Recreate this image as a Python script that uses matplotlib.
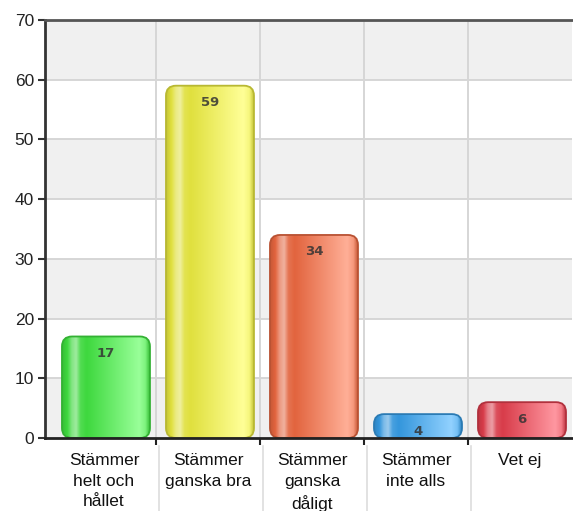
import numpy as np
import matplotlib
matplotlib.use("Agg")
import matplotlib.pyplot as plt
from matplotlib.patches import FancyBboxPatch
from matplotlib.colors import LinearSegmentedColormap, to_rgb
from matplotlib.lines import Line2D
from matplotlib.transforms import blended_transform_factory

categories = ["Stämmer\nhelt och\nhållet", "Stämmer\nganska bra", "Stämmer\nganska\ndåligt",
              "Stämmer\ninte alls", "Vet ej"]
values = [17, 59, 34, 4, 6]
bar_colors = ["#3ed83e", "#e0e03e", "#e2643e", "#3496dc", "#d83c4a"]
y_ticks = [0, 10, 20, 30, 40, 50, 60, 70]

W, H = 573, 511
fig = plt.figure(figsize=(W / 100, H / 100), dpi=100)
L, R, T, B = 45, 572, 20, 438
ax = fig.add_axes([L / W, (H - B) / H, (R - L) / W, (B - T) / H])

n = len(categories)
xmin, xmax = -0.567, n - 0.5
ymin, ymax = 0, 70
ax.set_xlim(xmin, xmax)
ax.set_ylim(ymin, ymax)

# alternating background bands
for i in range(0, 7):
    if i % 2 == 0:
        ax.axhspan(i * 10, (i + 1) * 10, color="#f0f0f0", zorder=0, lw=0)
ax.set_facecolor("white")

# grid
for yv in y_ticks[1:-1]:
    ax.axhline(yv, color="#d6d6d6", lw=1.4, zorder=1)
for xb in np.arange(0.5, n - 0.5, 1.0):
    ax.axvline(xb, color="#d6d6d6", lw=1.4, zorder=1)

def mix(c, t, target):
    c = np.array(to_rgb(c)); target = np.array(target)
    return tuple(c + (target - c) * t)

def brighten(c, t):
    c = np.array(to_rgb(c))
    mx = c.max()
    b = np.clip(c / mx, 0, 1)
    b = b * 0.75 + 0.25 * np.array([1, 1, 1]) * b.max()
    b = np.clip(b + 0.25 * (1 - b), 0, 1)
    return tuple(c + (b - c) * t)

px_x = (xmax - xmin) / (R - L)
px_y = (ymax - ymin) / (B - T)
rad_px = 10
r_x = rad_px * px_x
asp = px_y / px_x
bw = 88 * px_x
off = 2 * px_x

for i, (v, c) in enumerate(zip(values, bar_colors)):
    x0 = i + off - bw / 2
    patch = FancyBboxPatch((x0, 0), bw, v,
                           boxstyle=f"round,pad=0,rounding_size={r_x}",
                           mutation_aspect=asp, facecolor="none",
                           edgecolor=mix(c, 0.18, (0, 0, 0)), lw=1.3, zorder=4)
    ax.add_patch(patch)
    stops = [
        (0.0, mix(c, 0.12, (0, 0, 0))),
        (0.06, c),
        (0.11, mix(c, 0.35, (1, 1, 1))),
        (0.16, mix(c, 0.5, (1, 1, 1))),
        (0.21, mix(c, 0.1, (1, 1, 1))),
        (0.28, c),
        (0.88, brighten(c, 1.0)),
        (0.95, brighten(c, 0.7)),
        (1.0, mix(c, 0.12, (0, 0, 0))),
    ]
    cmap = LinearSegmentedColormap.from_list(f"g{i}", stops)
    grad = np.linspace(0, 1, 256).reshape(1, -1)
    im = ax.imshow(grad, cmap=cmap, extent=(x0, x0 + bw, 0, v), aspect="auto",
                   zorder=3, interpolation="bilinear")
    im.set_clip_path(patch)
    ax.text(i + off, v - 17 * px_y, str(v), ha="center", va="center",
            fontsize=9.5, fontweight="bold", color="#333333", alpha=0.85,
            family="DejaVu Sans", zorder=5)

ax.set_xlim(xmin, xmax)
ax.set_ylim(ymin, ymax)

# spines
ax.spines["right"].set_visible(False)
ax.spines["top"].set_color("#555555")
ax.spines["top"].set_linewidth(2)
ax.spines["left"].set_color("#333333")
ax.spines["left"].set_linewidth(2)
ax.spines["bottom"].set_color("#222222")
ax.spines["bottom"].set_linewidth(2)
for s in ax.spines.values():
    s.set_zorder(6)

ax.set_yticks(y_ticks)
ax.set_yticklabels([str(t) for t in y_ticks], family="Liberation Sans", fontsize=12.5, color="#222222")
ax.tick_params(axis="y", length=5, width=1.5, color="#333333", pad=3)

ax.set_xticks(range(n))
ax.set_xticklabels(categories, family="Liberation Sans", fontsize=12.5, color="#111111",
                   linespacing=1.45)
ax.tick_params(axis="x", length=0, pad=11)
ax.set_xticks(np.arange(0.5, n - 0.5, 1.0), minor=True)
ax.tick_params(axis="x", which="minor", length=5, width=1.5, color="#222222", direction="out")

# separators below axis
tr = blended_transform_factory(ax.transData, ax.transAxes)
for xb in np.arange(0.5, n - 0.5, 1.0):
    ln = Line2D([xb + 3 * px_x, xb + 3 * px_x], [-0.02, -0.18], transform=tr, color="#dddddd",
                lw=1.2, clip_on=False)
    ax.add_line(ln)

fig.savefig("out.png", dpi=100)
